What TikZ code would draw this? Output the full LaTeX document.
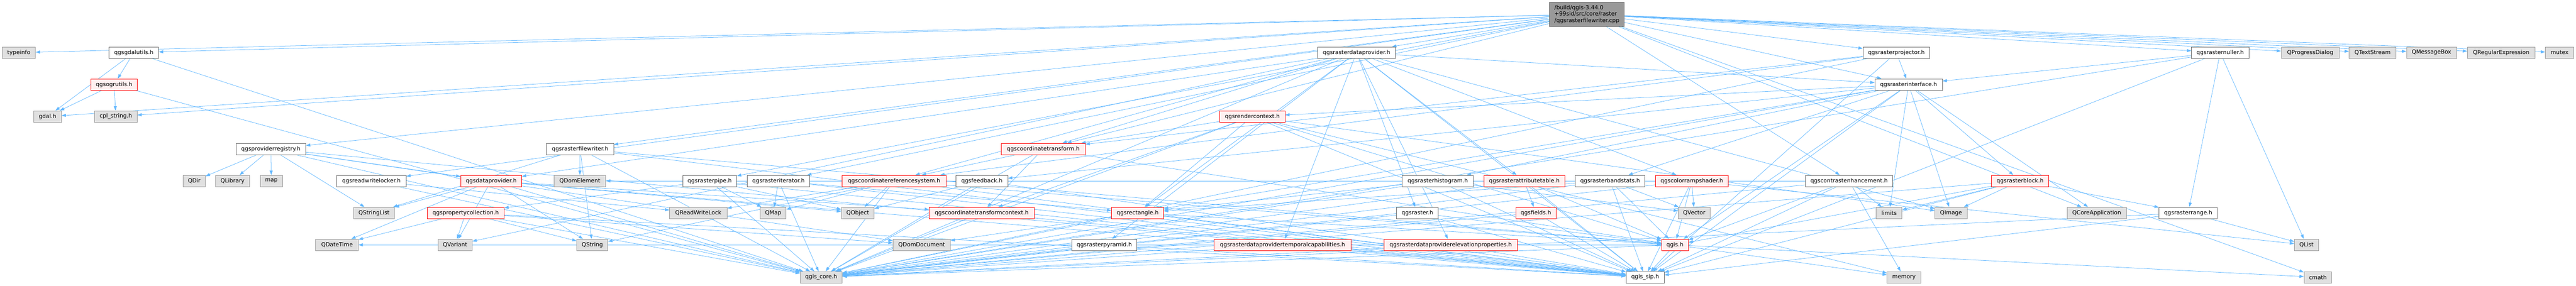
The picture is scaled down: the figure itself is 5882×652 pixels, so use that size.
\documentclass[tikz,border=0pt]{standalone}
\usepackage{fontspec}
\setmainfont{DejaVu Sans}
\usepackage{tikz}
\definecolor{edgeblue}{HTML}{63B8FF}
\definecolor{truncfill}{HTML}{FFF0F0}
\definecolor{sysfill}{HTML}{E0E0E0}
\definecolor{sysdraw}{HTML}{999999}
\definecolor{hdrdraw}{HTML}{666666}
\usetikzlibrary{
  arrows.meta,
  backgrounds,
  positioning,
}
\tikzset{
  >={Triangle[length=10pt, width=7pt]},
}

\begin{document}
\begin{tikzpicture}[x=1pt, y=-1pt,
    every node/.style={font=\fontsize{12.8}{14.6}\selectfont, minimum height=26pt,
                       inner sep=0pt, line width=1pt},
    hdr/.style={draw=hdrdraw, fill=white},
    trunc/.style={draw=red, fill=truncfill},
    sys/.style={draw=sysdraw, fill=sysfill},
    rootfile/.style={draw=hdrdraw, fill=sysdraw, align=left, minimum height=55pt},
    dep/.style={->, edgeblue, line width=0.9pt}]
  \useasboundingbox (0,0) rectangle (5882,652);
  \node [rootfile, minimum width=171pt] (root) at (3623.5,32.5)
        {/build/qgis-3.44.0\\+99sid/src/core/raster\\/qgsrasterfilewriter.cpp};
  \node [sys, minimum width=76pt] (typeinfo) at (43,120) {typeinfo};
  \node [hdr, minimum width=113pt] (gdalutils) at (305.5,120) {qgsgdalutils.h};
  \node [hdr, minimum width=177pt] (rdp) at (3097.5,120) {qgsrasterdataprovider.h};
  \node [hdr, minimum width=152pt] (projector) at (4330,120) {qgsrasterprojector.h};
  \node [hdr, minimum width=131pt] (nuller) at (5069.5,120) {qgsrasternuller.h};
  \node [sys, minimum width=132pt] (qprogress) at (5275,120) {QProgressDialog};
  \node [sys, minimum width=107pt] (qtextstream) at (5417.5,120) {QTextStream};
  \node [sys, minimum width=114pt] (qmessagebox) at (5552,120) {QMessageBox};
  \node [sys, minimum width=154pt] (qregexp) at (5711,120) {QRegularExpression};
  \node [sys, minimum width=65pt] (mutex) at (5844.5,120) {mutex};
  \node [trunc, minimum width=107pt] (ogrutils) at (260.5,193) {qgsogrutils.h};
  \node [hdr, minimum width=154pt] (interface) at (4358,193) {qgsrasterinterface.h};
  \node [sys, minimum width=63pt] (gdalh) at (108.5,266) {gdal.h};
  \node [sys, minimum width=97pt] (cplstring) at (264.5,266) {cpl\_string.h};
  \node [trunc, minimum width=149pt] (rendercontext) at (2859.5,266) {qgsrendercontext.h};
  \node [hdr, minimum width=159pt] (provreg) at (618.5,340) {qgsproviderregistry.h};
  \node [hdr, minimum width=153pt] (filewriterh) at (1324.5,340) {qgsrasterfilewriter.h};
  \node [trunc, minimum width=192pt] (ct) at (2382,340) {qgscoordinatetransform.h};
  \node [sys, minimum width=51pt] (qdir) at (443.5,413) {QDir};
  \node [sys, minimum width=78pt] (qlibrary) at (531,413) {QLibrary};
  \node [sys, minimum width=51pt] (map) at (619.5,413) {map};
  \node [hdr, minimum width=158pt] (rwlocker) at (848,413) {qgsreadwritelocker.h};
  \node [trunc, minimum width=139pt] (dataprov) at (1121.5,413) {qgsdataprovider.h};
  \node [sys, minimum width=118pt] (qdomelement) at (1324,413) {QDomElement};
  \node [hdr, minimum width=123pt] (pipe) at (1620.5,413) {qgsrasterpipe.h};
  \node [hdr, minimum width=143pt] (iterator) at (1777.5,413) {qgsrasteriterator.h};
  \node [trunc, minimum width=237pt] (crs) at (2041.5,413) {qgscoordinatereferencesystem.h};
  \node [hdr, minimum width=118pt] (feedback) at (2242,413) {qgsfeedback.h};
  \node [hdr, minimum width=162pt] (histogram) at (3283,413) {qgsrasterhistogram.h};
  \node [trunc, minimum width=185pt] (attrtable) at (3480.5,413) {qgsrasterattributetable.h};
  \node [hdr, minimum width=159pt] (bandstats) at (3676.5,413) {qgsrasterbandstats.h};
  \node [trunc, minimum width=166pt] (colorramp) at (3863,413) {qgscolorrampshader.h};
  \node [hdr, minimum width=198pt] (contrast) at (4222,413) {qgscontrastenhancement.h};
  \node [trunc, minimum width=131pt] (block) at (4612.5,413) {qgsrasterblock.h};
  \node [sys, minimum width=94pt] (qstringlist) at (854,486) {QStringList};
  \node [trunc, minimum width=175pt] (propcoll) at (1063.5,486) {qgspropertycollection.h};
  \node [sys, minimum width=131pt] (qreadwritelock) at (1594.5,486) {QReadWriteLock};
  \node [sys, minimum width=59pt] (qmap) at (1765.5,486) {QMap};
  \node [sys, minimum width=75pt] (qobject) at (1958.5,486) {QObject};
  \node [trunc, minimum width=239pt] (ctcontext) at (2241.5,486) {qgscoordinatetransformcontext.h};
  \node [trunc, minimum width=119pt] (rectangle) at (2597.5,486) {qgsrectangle.h};
  \node [hdr, minimum width=95pt] (raster) at (3236.5,486) {qgsraster.h};
  \node [trunc, minimum width=92pt] (fields) at (3507,486) {qgsfields.h};
  \node [sys, minimum width=73pt] (qvector) at (3868.5,486) {QVector};
  \node [sys, minimum width=59pt] (limits) at (4313.5,486) {limits};
  \node [sys, minimum width=74pt] (qimage) at (4455,486) {QImage};
  \node [sys, minimum width=135pt] (qcoreapp) at (4787.5,486) {QCoreApplication};
  \node [hdr, minimum width=133pt] (range) at (4996.5,486) {qgsrasterrange.h};
  \node [sys, minimum width=97pt] (qdatetime) at (769.5,559) {QDateTime};
  \node [sys, minimum width=78pt] (qvariant) at (1039,559) {QVariant};
  \node [sys, minimum width=71pt] (qstring) at (1352.5,559) {QString};
  \node [sys, minimum width=131pt] (qdomdocument) at (2104.5,559) {QDomDocument};
  \node [hdr, minimum width=149pt] (pyramid) at (2521.5,559) {qgsrasterpyramid.h};
  \node [trunc, minimum width=313pt] (tempcap) at (2928.5,559)
        {qgsrasterdataprovidertemporalcapabilities.h};
  \node [trunc, minimum width=305pt] (elevprops) at (3312.5,559)
        {qgsrasterdataproviderelevationproperties.h};
  \node [trunc, minimum width=61pt] (qgish) at (3824.5,559) {qgis.h};
  \node [sys, minimum width=55pt] (qlist) at (5266.5,559) {QList};
  \node [sys, minimum width=96pt] (qgiscore) at (1875,633) {qgis\_core.h};
  \node [hdr, minimum width=87pt] (qgissip) at (3756.5,633) {qgis\_sip.h};
  \node [sys, minimum width=77pt] (memory) at (4347.5,633) {memory};
  \node [sys, minimum width=63pt] (cmath) at (5292.5,633) {cmath};
  \begin{scope}[on background layer]
    \foreach \src/\dsts in {
        root/{typeinfo,gdalutils,gdalh,cplstring,provreg,filewriterh,rwlocker,pipe,iterator,
              ct,rdp,projector,interface,nuller,contrast,qcoreapp,qprogress,qtextstream,
              qmessagebox,qregexp,mutex,cmath},
        gdalutils/{gdalh,ogrutils,qgiscore},
        ogrutils/{gdalh,cplstring,qgiscore},
        provreg/{qdir,qlibrary,map,dataprov,qgiscore,qgissip,qstringlist,qdomdocument},
        filewriterh/{qdomelement,qstring,qstringlist,qgiscore,qgissip,qgish},
        rwlocker/{qreadwritelock,qgiscore},
        dataprov/{qdatetime,qstringlist,qstring,qobject,qvariant,qgiscore,qgissip,ctcontext},
        propcoll/{qdatetime,qvariant,qstring,qgiscore,qgissip,qdomdocument},
        pipe/{propcoll,qgiscore,qgissip,qmap,qobject},
        iterator/{qmap,qgiscore,qgissip,rectangle},
        crs/{qreadwritelock,qmap,qobject,qstring,qgiscore,qgissip,qgish},
        ctcontext/{qgiscore,qgissip},
        ct/{crs,ctcontext,qgiscore,qgish},
        feedback/{qobject,qgiscore,qgissip},
        rectangle/{qdomdocument,qgiscore,qgissip,qgish},
        pyramid/{qgiscore,qgish,qgissip},
        rendercontext/{ct,ctcontext,rectangle,qgiscore,qgissip,qgish,qimage,memory},
        tempcap/{qgiscore,qgissip,qdatetime},
        rdp/{dataprov,interface,ct,crs,colorramp,raster,rectangle,attrtable,pyramid,tempcap,
             elevprops,qgiscore,qgissip,qimage,qvariant},
        histogram/{rectangle,qgiscore,qvector,qgissip},
        attrtable/{fields,qgiscore,qgissip,qgish},
        raster/{qgiscore,qgish,qgissip},
        fields/{qgiscore,qgissip},
        elevprops/{qgiscore,qgissip},
        bandstats/{qgish,qgissip,qvector,rectangle,qgiscore},
        colorramp/{qvector,qgish,qgissip,qgiscore,qlist},
        contrast/{limits,memory,qgiscore,qgissip,qgish,qdomelement},
        qgish/{qgissip,qgiscore,cmath,memory},
        projector/{interface,ct,crs,qgiscore,qgissip},
        interface/{block,limits,qimage,qcoreapp,rendercontext,histogram,bandstats,feedback,
                   rectangle,qgiscore,qgissip,qgish},
        block/{limits,qimage,range,qgiscore,qgissip,qgish},
        range/{qlist,qgiscore,qgissip},
        nuller/{range,interface,qgiscore,qgissip,qlist}}
      \foreach \dst in \dsts
        \draw [dep] (\src) -- (\dst);
  \end{scope}
\end{tikzpicture}
\end{document}
